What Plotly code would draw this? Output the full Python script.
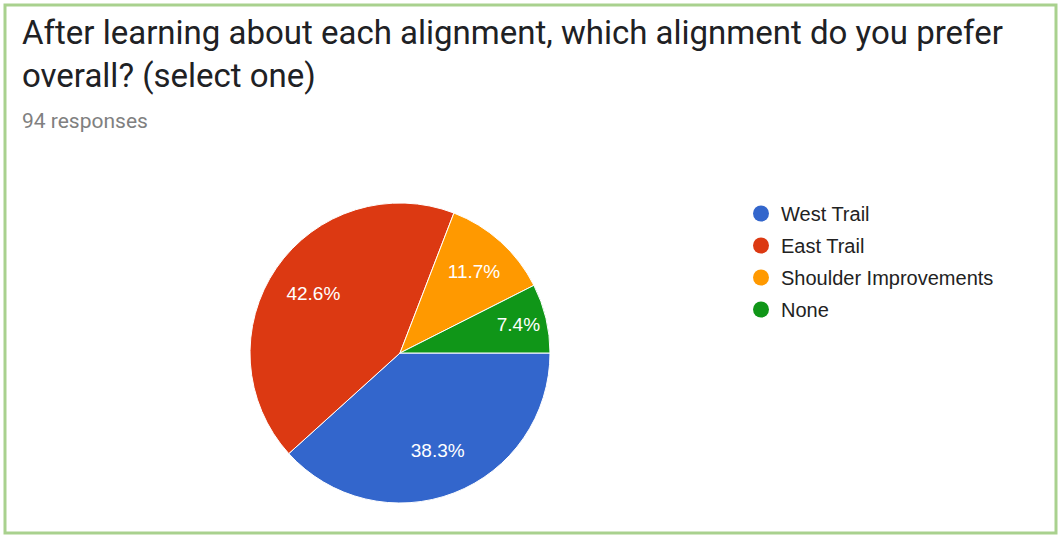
import plotly.graph_objects as go

W, H = 1059, 535

categories = ["West Trail", "East Trail", "Shoulder Improvements", "None"]
counts = [36, 40, 11, 7]
colors = ["#3366cc", "#dc3912", "#ff9900", "#109618"]
title_lines = ["After learning about each alignment, which alignment do you prefer",
               "overall? (select one)"]
subtitle = "94 responses"


def px(x):
    return x / W


def py(y):
    return 1 - y / H


pie_domain = dict(x=[px(250), px(550)], y=[py(503), py(203)])

fig = go.Figure()

# the coloured slices
fig.add_trace(go.Pie(
    labels=categories,
    values=counts,
    sort=False,
    direction="clockwise",
    rotation=90,
    marker=dict(colors=colors, line=dict(color="white", width=1)),
    textinfo="none",
    domain=pie_domain,
    showlegend=False,
    hoverinfo="label+percent",
))

# same data as a transparent ring, only to place the percentage labels further out
fig.add_trace(go.Pie(
    labels=categories,
    values=counts,
    sort=False,
    direction="clockwise",
    rotation=90,
    hole=0.4,
    marker=dict(colors=["rgba(0,0,0,0)"] * len(categories), line=dict(width=0)),
    texttemplate="%{percent:.1%}",
    textposition="inside",
    insidetextorientation="horizontal",
    textfont=dict(family="Arial, Liberation Sans", size=19, color="white"),
    domain=pie_domain,
    showlegend=False,
    hoverinfo="skip",
))

for i, (cat, col) in enumerate(zip(categories, colors)):
    fig.add_trace(go.Scatter(
        x=[None], y=[None], mode="markers", name=cat,
        marker=dict(color=col, size=18, symbol="circle"),
        legendgroup=f"g{i}", showlegend=True,
    ))

fig.add_annotation(text=title_lines[0], x=px(20), y=py(32), xref="paper", yref="paper",
                   xanchor="left", yanchor="middle", showarrow=False,
                   font=dict(family="Roboto", size=33, color="#202124"))
fig.add_annotation(text=title_lines[1], x=px(20), y=py(75), xref="paper", yref="paper",
                   xanchor="left", yanchor="middle", showarrow=False,
                   font=dict(family="Roboto", size=33, color="#202124"))
fig.add_annotation(text=subtitle, x=px(20), y=py(121), xref="paper", yref="paper",
                   xanchor="left", yanchor="middle", showarrow=False,
                   font=dict(family="Roboto", size=21, color="#808080"))

fig.add_shape(type="rect", xref="paper", yref="paper",
              x0=px(5), x1=px(1056), y0=py(533), y1=py(5),
              line=dict(color="#a9d18e", width=3))

fig.update_layout(
    width=W, height=H,
    margin=dict(l=0, r=0, t=0, b=0),
    paper_bgcolor="white", plot_bgcolor="white",
    xaxis=dict(visible=False), yaxis=dict(visible=False),
    legend=dict(x=px(741), y=py(194), xanchor="left", yanchor="top",
                font=dict(family="Arial, Liberation Sans", size=20, color="#222222"),
                tracegroupgap=3, bgcolor="rgba(0,0,0,0)"),
)

# remove the default 8px body margin so the figure fills the window
fig.write_html("out.html",
               config={"displayModeBar": False},
               post_script="document.body.style.margin='0';document.body.style.overflow='hidden';")
